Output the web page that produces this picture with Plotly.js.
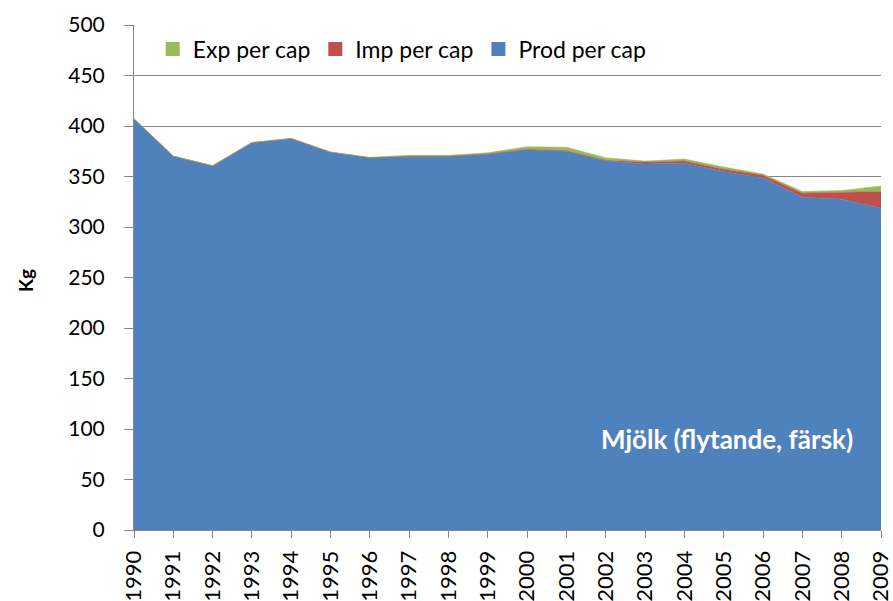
<!DOCTYPE html>
<html>
<head>
<meta charset="utf-8">
<script src="https://cdn.plot.ly/plotly-3.0.1.min.js"></script>
<style>html,body{margin:0;padding:0;background:#fff;}#chart{width:893px;height:601px;}</style>
</head>
<body>
<div id="chart"></div>
<script>
const years = [1990,1991,1992,1993,1994,1995,1996,1997,1998,1999,2000,2001,2002,2003,2004,2005,2006,2007,2008,2009];
const prodPerCap = [407,370,360.5,383.5,387.5,374,368.5,370,370,372,376.5,375,365.5,362.5,363,355,348.5,329.5,327.5,318.5];
const impPerCap = [0,0,0,0,0,0,0,0,0,0.3,0.5,0.5,0.5,1.8,2.3,2.3,2.7,4,7,16.5];
const expPerCap = [0.3,0.3,0.3,0.3,0.3,0.3,0.5,1,1,1.2,2.5,3.5,2.5,1,2,2,1.3,1.7,1.7,5.6];
const yTicks = [0,50,100,150,200,250,300,350,400,450,500];

const font = "Lato, 'Open Sans', sans-serif";
const colors = {prod: '#4F81BD', imp: '#C0504D', exp: '#9BBB59'};

const traces = [
  {x: years, y: prodPerCap, name: 'Prod per cap', stackgroup: 'one', mode: 'lines', showlegend: false,
   line: {width: 0.5, color: colors.prod}, fillcolor: colors.prod},
  {x: years, y: impPerCap, name: 'Imp per cap', stackgroup: 'one', mode: 'lines', showlegend: false,
   line: {width: 0.5, color: colors.imp}, fillcolor: colors.imp},
  {x: years, y: expPerCap, name: 'Exp per cap', stackgroup: 'one', mode: 'lines', showlegend: false,
   line: {width: 0.5, color: colors.exp}, fillcolor: colors.exp},
  // legend-only entries (square swatches)
  {x: [null], y: [null], name: 'Exp per cap', type: 'scatter', mode: 'markers',
   marker: {symbol: 'square', size: 14, color: colors.exp}},
  {x: [null], y: [null], name: 'Imp per cap', type: 'scatter', mode: 'markers',
   marker: {symbol: 'square', size: 14, color: colors.imp}},
  {x: [null], y: [null], name: 'Prod per cap', type: 'scatter', mode: 'markers',
   marker: {symbol: 'square', size: 14, color: colors.prod}}
];

const layout = {
  width: 893, height: 601,
  margin: {l: 134, r: 12, t: 25, b: 71},
  paper_bgcolor: '#ffffff', plot_bgcolor: '#ffffff',
  font: {family: font, size: 20, color: '#000'},
  showlegend: true,
  legend: {orientation: 'h', x: 0.025, y: 0.995, xanchor: 'left', yanchor: 'top',
    traceorder: 'normal', font: {family: font, size: 23, color: '#000'},
    bgcolor: 'rgba(0,0,0,0)'},
  xaxis: {range: [1990, 2009], tickmode: 'array', tickvals: years, ticktext: years.map(String),
    tickangle: -90, ticks: 'outside', ticklen: 7, tickcolor: '#868686',
    showline: true, linecolor: '#868686', linewidth: 1, showgrid: false, zeroline: false,
    ticklabeloverflow: 'allow', ticklabelstandoff: 4,
    tickfont: {family: font, size: 22}},
  yaxis: {range: [0, 500], tickmode: 'array', tickvals: yTicks, ticks: 'outside', ticklen: 9,
    tickcolor: '#868686', showline: true, linecolor: '#868686', linewidth: 1,
    showgrid: true, gridcolor: '#868686', gridwidth: 1, zeroline: false,
    ticklabelstandoff: 15,
    tickfont: {family: font, size: 21}},
  annotations: [
    {xref: 'paper', yref: 'paper', x: 0.965, y: 0.18, xanchor: 'right', yanchor: 'middle',
     text: '<b>Mjölk (flytande, färsk)</b>', showarrow: false,
     font: {family: font, size: 26, color: '#ffffff'}},
    {xref: 'paper', yref: 'paper', x: -0.146, y: 0.495, xanchor: 'center', yanchor: 'middle',
     text: '<b>Kg</b>', textangle: -90, showarrow: false,
     font: {family: font, size: 19, color: '#000'}}
  ]
};

Plotly.newPlot('chart', traces, layout, {displayModeBar: false, staticPlot: true});
</script>
</body>
</html>
